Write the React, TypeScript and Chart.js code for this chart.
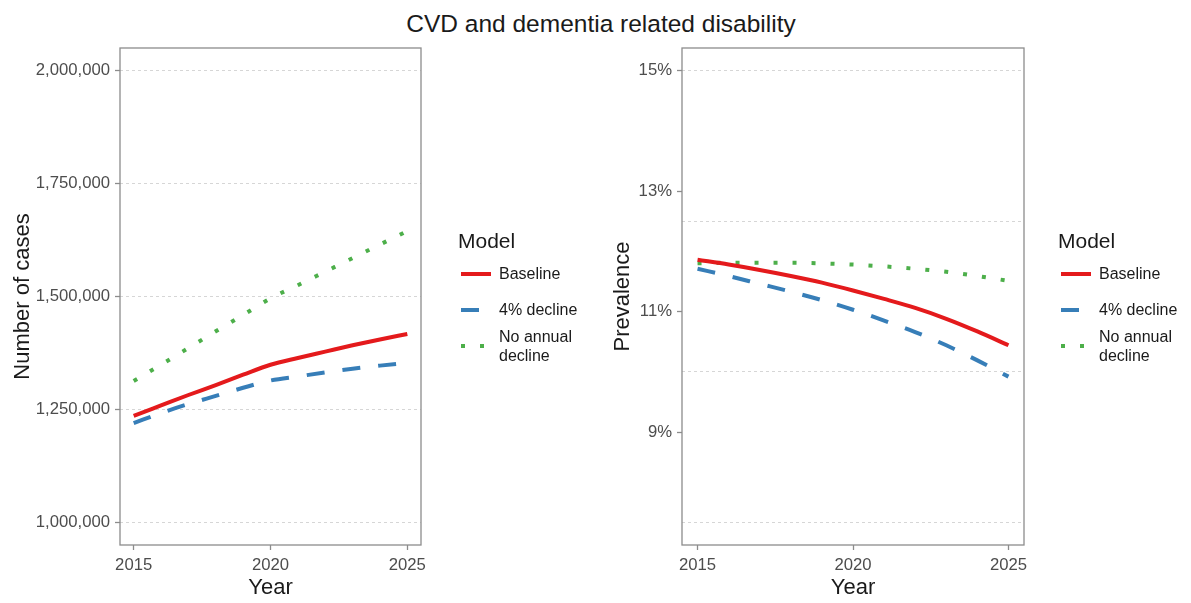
import { useEffect, useRef } from "react";
import { Chart, registerables } from "chart.js";

Chart.register(...registerables);

const FONT = "'Liberation Sans', Arial, sans-serif";

const years = [2015, 2016, 2017, 2018, 2019, 2020, 2021, 2022, 2023, 2024, 2025];
const yearTicks = [2015, 2020, 2025];

const seriesNames = ["Baseline", "4% decline", "No annual decline"];

// number of cases
const casesBaseline = [1236000, 1259000, 1282000, 1304000, 1327000, 1349000, 1364000, 1378000, 1392000, 1405000, 1417000];
const casesDecline = [1220000, 1242000, 1262000, 1280000, 1298000, 1314000, 1323000, 1332000, 1340000, 1347000, 1353000];
const casesNoDecline = [1313000, 1349000, 1386000, 1423000, 1459000, 1496000, 1525000, 1555000, 1585000, 1615000, 1645000];
const caseTicks = [1000000, 1250000, 1500000, 1750000, 2000000];

// prevalence (%)
const prevBaseline = [11.86, 11.78, 11.69, 11.59, 11.48, 11.35, 11.21, 11.06, 10.88, 10.67, 10.44];
const prevDecline = [11.71, 11.59, 11.46, 11.33, 11.19, 11.03, 10.85, 10.66, 10.44, 10.19, 9.92];
const prevNoDecline = [11.8, 11.81, 11.81, 11.81, 11.8, 11.78, 11.75, 11.71, 11.66, 11.59, 11.51];
const prevTicks = [9, 11, 13, 15];
const prevGridLines = [7.5, 10, 12.5, 15];

const colors = ["#e41a1c", "#377eb8", "#4daf4a"];
const dashes = [[], [18, 18], [4, 15]];

const frameColor = "#8c8c8c";
const gridColor = "#d6d6d6";

const framePlugin = {
  id: "frame",
  afterDraw(chart: any) {
    const { ctx, chartArea } = chart;
    ctx.save();
    ctx.strokeStyle = frameColor;
    ctx.lineWidth = 1.3;
    ctx.strokeRect(chartArea.left, chartArea.top, chartArea.right - chartArea.left, chartArea.bottom - chartArea.top);
    ctx.restore();
  },
};

const legendPlugin = {
  id: "modelLegend",
  afterDraw(chart: any) {
    const ctx = chart.ctx;
    ctx.save();
    ctx.fillStyle = "#1a1a1a";
    ctx.textBaseline = "middle";
    ctx.font = `21px ${FONT}`;
    ctx.fillText("Model", 458, 242);
    const sampleY = [274, 310, 346];
    const textLines = [["Baseline"], ["4% decline"], ["No annual", "decline"]];
    const textY = [[275], [311], [338, 357]];
    chart.data.datasets.forEach((ds: any, i: number) => {
      ctx.strokeStyle = ds.borderColor;
      ctx.lineWidth = 4;
      ctx.setLineDash(ds.borderDash || []);
      ctx.beginPath();
      ctx.moveTo(461, sampleY[i]);
      ctx.lineTo(491, sampleY[i]);
      ctx.stroke();
      ctx.setLineDash([]);
      ctx.font = `16px ${FONT}`;
      ctx.fillStyle = "#1a1a1a";
      textLines[i].forEach((t, j) => ctx.fillText(t, 499, textY[i][j]));
    });
    ctx.restore();
  },
};

function makeDatasets(values: number[][]) {
  return values.map((vals, i) => ({
    label: seriesNames[i],
    data: years.map((x, k) => ({ x, y: vals[k] })),
    borderColor: colors[i],
    backgroundColor: colors[i],
    borderWidth: 4,
    borderDash: dashes[i],
    pointRadius: 0,
    cubicInterpolationMode: "monotone" as const,
    fill: false,
  }));
}

function xScale() {
  return {
    type: "linear" as const,
    min: 2014.5,
    max: 2025.5,
    afterBuildTicks: (s: any) => {
      s.ticks = yearTicks.map((v) => ({ value: v }));
    },
    afterFit: (s: any) => {
      s.height = 58;
    },
    grid: { display: true, drawOnChartArea: false, drawTicks: true, tickLength: 5, tickColor: frameColor, tickWidth: 1.3 },
    border: { display: false },
    ticks: { color: "#4d4d4d", font: { size: 16.7, family: FONT }, padding: 5, maxRotation: 0, callback: (v: any) => String(v) },
    title: { display: true, text: "Year", color: "#1a1a1a", font: { size: 22, family: FONT }, padding: { top: 0, bottom: 2 } },
  };
}

function Panel({ kind, left, width }: { kind: "cases" | "prev"; left: number; width: number }) {
  const canvasRef = useRef<HTMLCanvasElement>(null);

  useEffect(() => {
    const ctx = canvasRef.current?.getContext("2d");
    if (!ctx) return;

    const isCases = kind === "cases";
    const yWidth = isCases ? 120 : 82;
    const areaRight = isCases ? 421 : 424;

    const scales: any = {
      x: xScale(),
      y: {
        type: "linear",
        position: "left",
        min: isCases ? 950000 : 7.125,
        max: isCases ? 2050000 : 15.375,
        afterBuildTicks: (s: any) => {
          s.ticks = (isCases ? caseTicks : prevTicks).map((v) => ({ value: v }));
        },
        afterFit: (s: any) => {
          s.width = yWidth;
        },
        grid: {
          display: true,
          drawOnChartArea: isCases,
          drawTicks: true,
          tickLength: 5,
          color: gridColor,
          lineWidth: 1,
          tickColor: frameColor,
          tickWidth: 1.3,
          tickBorderDash: [],
        },
        border: { display: false, dash: [3, 3] },
        ticks: {
          color: "#4d4d4d",
          font: { size: 16.7, family: FONT },
          padding: 5,
          callback: (v: any) => (isCases ? Number(v).toLocaleString("en-US") : `${v}%`),
        },
        title: {
          display: true,
          text: isCases ? "Number of cases" : "Prevalence",
          color: "#1a1a1a",
          font: { size: 22, family: FONT },
          padding: { top: 10, bottom: 0 },
        },
      },
    };

    if (!isCases) {
      scales.y2 = {
        type: "linear",
        position: "right",
        min: 7.125,
        max: 15.375,
        afterBuildTicks: (s: any) => {
          s.ticks = prevGridLines.map((v) => ({ value: v }));
        },
        afterFit: (s: any) => {
          s.width = 0;
        },
        grid: { display: true, drawOnChartArea: true, drawTicks: false, color: gridColor, lineWidth: 1 },
        border: { display: false, dash: [3, 3] },
        ticks: { display: false },
      };
    }

    const chart = new Chart(ctx, {
      type: "line",
      data: {
        datasets: makeDatasets(
          isCases ? [casesBaseline, casesDecline, casesNoDecline] : [prevBaseline, prevDecline, prevNoDecline]
        ),
      },
      options: {
        responsive: false,
        animation: false,
        layout: { padding: { left: 0, top: 48, right: width - areaRight, bottom: 0 } },
        plugins: { legend: { display: false }, tooltip: { enabled: false } },
        scales,
      },
      plugins: [framePlugin, legendPlugin],
    });

    return () => chart.destroy();
  }, [kind, width]);

  return (
    <canvas
      ref={canvasRef}
      width={width}
      height={603}
      style={{ position: "absolute", left, top: 0, width, height: 603 }}
    />
  );
}

export default function App() {
  return (
    <div style={{ position: "fixed", left: 0, top: 0, width: 1191, height: 603, background: "#fff", overflow: "hidden" }}>
      <div
        style={{
          position: "absolute",
          left: 351,
          top: 9,
          width: 500,
          textAlign: "center",
          fontFamily: FONT,
          fontSize: 24.5,
          lineHeight: "30px",
          color: "#1a1a1a",
        }}
      >
        CVD and dementia related disability
      </div>
      <Panel kind="cases" left={0} width={600} />
      <Panel kind="prev" left={600} width={591} />
    </div>
  );
}
